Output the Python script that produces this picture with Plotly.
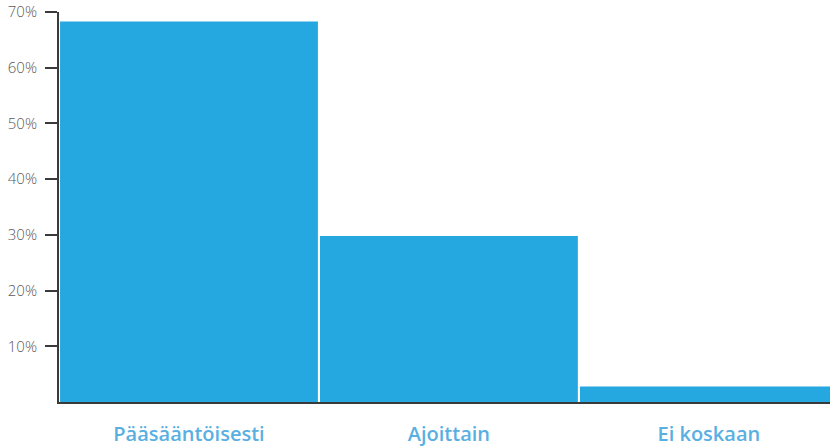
import plotly.graph_objects as go

categories = ["Pääsääntöisesti", "Ajoittain", "Ei koskaan"]
values = [68.3, 29.8, 2.8]
y_ticks = [10, 20, 30, 40, 50, 60, 70]
y_tick_labels = ["10%", "20%", "30%", "40%", "50%", "60%", "70%"]

fig = go.Figure(go.Bar(
    x=categories, y=values,
    marker=dict(color="#25a8e0", line=dict(width=0)),
    hoverinfo="skip",
))

fig.update_layout(
    width=830, height=446,
    margin=dict(l=59, r=0, t=12, b=44),
    paper_bgcolor="white", plot_bgcolor="white",
    bargap=0.008,
    showlegend=False,
    font=dict(family="Open Sans, sans-serif"),
)
fig.update_xaxes(
    showline=True, linecolor="#3a3a3a", linewidth=2,
    showgrid=False, ticks="", zeroline=False, automargin=False,
    tickfont=dict(size=20, color="#5aafe2", family="Open Sans, sans-serif", weight=600),
    ticklabelstandoff=13,
    range=[-0.5, 2.466],
)
fig.update_yaxes(
    range=[0, 70], showline=True, linecolor="#3a3a3a", linewidth=2,
    showgrid=False, zeroline=False, automargin=False,
    ticks="outside", ticklen=12, tickwidth=2, tickcolor="#3a3a3a",
    tickvals=y_ticks, ticktext=y_tick_labels,
    ticklabelstandoff=5,
    tickfont=dict(size=15, color="#5a5a5a", weight=300),
)

fig.write_html("out.html")
